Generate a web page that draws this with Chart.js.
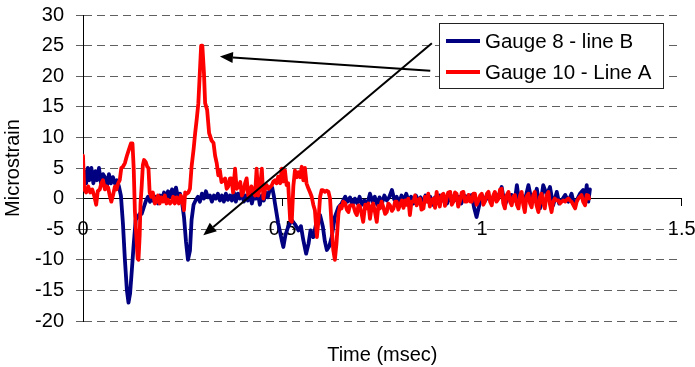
<!DOCTYPE html>
<html>
<head>
<meta charset="utf-8">
<title>Gauge strain vs time</title>
<script src="https://cdn.jsdelivr.net/npm/chart.js@4.4.1/dist/chart.umd.min.js"></script>
<style>
  html, body { margin: 0; padding: 0; background: #fff; }
  canvas { display: block; }
</style>
</head>
<body>
<canvas id="strainChart" width="695" height="367"></canvas>
<script>
// Gauge 8 (line B): sample times (msec) and strain readings (microstrain)
const gauge8Time = [
  0.000,0.004,0.008,0.012,0.016,0.021,0.026,0.031,0.035,0.040,
  0.045,0.050,0.055,0.060,0.065,0.070,0.075,0.080,0.085,0.090,
  0.095,0.100,0.105,0.110,0.114,0.118,0.122,0.127,0.132,0.137,
  0.142,0.147,0.152,0.158,0.163,0.168,0.173,0.178,0.183,0.188,
  0.193,0.198,0.203,0.208,0.213,0.218,0.223,0.228,0.233,0.238,
  0.243,0.248,0.253,0.258,0.263,0.268,0.272,0.277,0.282,0.288,
  0.293,0.298,0.303,0.308,0.313,0.318,0.323,0.328,0.333,0.338,
  0.343,0.348,0.353,0.358,0.363,0.368,0.373,0.378,0.383,0.388,
  0.393,0.398,0.403,0.408,0.413,0.418,0.423,0.428,0.433,0.438,
  0.443,0.448,0.453,0.458,0.463,0.468,0.474,0.478,0.481,0.489,
  0.498,0.502,0.507,0.514,0.523,0.531,0.540,0.546,0.552,0.559,
  0.565,0.570,0.577,0.586,0.594,0.601,0.606,0.611,0.617,0.623,
  0.631,0.640,0.648,0.657,0.663,0.669,0.675,0.681,0.687,0.693,
  0.699,0.705,0.711,0.719,0.725,0.731,0.737,0.743,0.749,0.755,
  0.761,0.767,0.774,0.780,0.786,0.792,0.798,0.804,0.810,0.816,
  0.822,0.828,0.834,0.840,0.846,0.852,0.858,0.864,0.870,0.876,
  0.882,0.888,0.894,0.900,0.906,0.912,0.918,0.924,0.930,0.936,
  0.942,0.948,0.954,0.962,0.974,0.980,0.986,0.991,0.999,1.008,
  1.016,1.024,1.032,1.040,1.049,1.057,1.066,1.074,1.082,1.087,
  1.093,1.099,1.107,1.116,1.122,1.128,1.137,1.145,1.153,1.162,
  1.170,1.178,1.187,1.193,1.199,1.208,1.216,1.224,1.230,1.237,
  1.245,1.253,1.258,1.262,1.266,1.270
];
const gauge8Strain = [
  1.5,4.5,2.5,5,3,5,2.5,4.5,3,5,
  2.5,4,3.5,2,4,2.5,3.5,2.5,3,2,
  0.5,-4,-10,-15,-17,-15.5,-12,-7.5,-3.5,-3,
  -2.5,-2.5,-1.5,-0.3,0.3,-0.5,0.5,-0.5,0.3,-0.8,
  0.5,0,1,-0.3,1.2,0.3,1.5,0.5,1.8,0.2,
  0.8,-0.5,-3,-7,-10,-8.5,-3.5,-1,-0.3,0.3,
  -0.5,0.8,0,1.2,0.2,0.5,-0.5,0.5,0,0.8,
  -0.3,0.5,-0.5,0.8,-0.2,0.5,-0.3,1,-0.5,0.8,
  0,1.2,-0.5,0.5,-0.3,1,-0.8,0.5,0,1,
  -1,0.5,-0.3,1,0.2,1.5,1.8,0.5,-0.8,-4,
  -6.8,-7.9,-6,-4.6,-3.5,-4.2,-5.2,-4.5,-6.8,-9,
  -7.4,-5.2,-6.3,-3.5,-2.7,-4.6,-7,-8.4,-7.8,-6.3,
  -3,-1.4,-0.8,0.3,-0.5,0.2,-1,0,-0.8,0.3,
  -1,-0.3,-1.2,0.8,-0.5,0.3,-1,0.2,-0.8,0.5,
  -0.3,0.2,1.4,-0.2,0.3,-0.8,0.5,-0.3,0.8,-0.5,
  0.3,-0.8,0.5,-0.3,0.2,-0.8,0.5,-0.5,0.3,-1,
  0.2,-0.5,0.5,-0.3,0,-0.8,0.2,-0.5,0.5,-0.3,
  0.3,-0.8,0.5,0.3,0.6,-1.5,-3,-1.6,0.6,-0.3,
  0.5,-0.3,0.8,0.2,1.9,-1.1,0.5,0.6,-0.3,2.2,
  -0.5,0.6,-0.3,2.2,0.3,-0.5,1.6,-1.6,2.2,0.6,
  1.9,-1.1,1.1,-0.8,-0.3,0.6,-0.5,0.8,-0.8,-0.3,
  0.8,1.4,-0.3,2.2,-0.5,1.5
];

// Gauge 10 (line A): sample times (msec) and strain readings (microstrain)
const gauge10Time = [
  0.000,0.003,0.008,0.013,0.018,0.023,0.028,0.033,0.037,0.042,
  0.046,0.050,0.055,0.059,0.063,0.067,0.071,0.075,0.080,0.084,
  0.088,0.092,0.096,0.100,0.105,0.110,0.115,0.120,0.124,0.127,
  0.130,0.133,0.137,0.139,0.142,0.144,0.147,0.150,0.153,0.157,
  0.161,0.164,0.167,0.171,0.175,0.180,0.184,0.188,0.192,0.196,
  0.200,0.205,0.209,0.213,0.218,0.222,0.226,0.230,0.235,0.240,
  0.245,0.249,0.253,0.256,0.260,0.264,0.268,0.272,0.277,0.281,
  0.285,0.289,0.293,0.296,0.299,0.303,0.306,0.311,0.316,0.322,
  0.327,0.331,0.335,0.339,0.343,0.347,0.352,0.356,0.360,0.364,
  0.368,0.372,0.376,0.381,0.385,0.390,0.394,0.398,0.402,0.406,
  0.410,0.414,0.418,0.422,0.427,0.431,0.435,0.439,0.444,0.448,
  0.452,0.456,0.460,0.465,0.469,0.473,0.477,0.481,0.485,0.489,
  0.494,0.498,0.502,0.506,0.510,0.514,0.519,0.523,0.527,0.531,
  0.536,0.540,0.544,0.548,0.552,0.556,0.560,0.565,0.569,0.573,
  0.577,0.581,0.586,0.590,0.594,0.598,0.601,0.606,0.611,0.615,
  0.619,0.623,0.627,0.631,0.635,0.640,0.644,0.648,0.652,0.657,
  0.661,0.665,0.669,0.673,0.677,0.682,0.686,0.690,0.694,0.698,
  0.702,0.707,0.711,0.715,0.719,0.723,0.727,0.731,0.736,0.740,
  0.744,0.748,0.752,0.757,0.761,0.765,0.769,0.774,0.778,0.782,
  0.786,0.790,0.794,0.799,0.803,0.807,0.811,0.815,0.819,0.823,
  0.828,0.832,0.836,0.840,0.844,0.848,0.853,0.857,0.861,0.865,
  0.869,0.873,0.878,0.882,0.886,0.890,0.894,0.898,0.903,0.907,
  0.911,0.915,0.920,0.924,0.928,0.932,0.936,0.940,0.945,0.949,
  0.953,0.957,0.961,0.966,0.970,0.974,0.978,0.982,0.986,0.991,
  0.995,0.999,1.003,1.007,1.012,1.016,1.020,1.024,1.028,1.032,
  1.036,1.041,1.045,1.049,1.053,1.057,1.061,1.066,1.070,1.074,
  1.078,1.082,1.087,1.091,1.095,1.099,1.103,1.107,1.111,1.116,
  1.120,1.124,1.128,1.132,1.136,1.141,1.145,1.149,1.153,1.157,
  1.161,1.166,1.170,1.174,1.178,1.182,1.186,1.191,1.195,1.199,
  1.203,1.208,1.212,1.216,1.220,1.224,1.228,1.233,1.237,1.241,
  1.245,1.249,1.253,1.258,1.262,1.266,1.268
];
const gauge10Strain = [
  7,1.5,1,2,1,1.5,0.5,-1,1.2,1.5,
  2.5,3,1.5,2,1.8,0.5,-0.5,0.5,2,1.5,
  2.5,3,5,5.2,5.8,7,8,9,9,5,
  -2,-5.5,-9.8,-10,-6,-1,2,5.5,6.3,6,
  5.2,5,1,0.3,1,-0.8,-0.5,0.5,-0.8,0.2,
  -0.5,0.5,-0.8,-0.2,-0.8,-0.5,0.3,-0.8,0.2,-0.8,
  0.5,-0.5,-1.9,1,0.8,1,1.6,5.2,8,10.7,
  13,15.6,21,25,25,20.6,15.6,14.5,10.7,9.5,
  9.1,7,5.8,3.8,4.6,2.7,3,3.3,1.6,2,
  3.3,3.3,1,4.9,1.6,2,2.7,0.5,1.1,2.5,
  3.3,0.5,1.1,2,1.1,0.5,4.9,0.5,2,4.9,
  0,1.5,2.2,1.6,1.9,2.2,2.8,3,2.5,3.6,
  2.5,4.9,2.8,4.6,2.2,2.5,-3.5,-3.8,2,4.6,
  3.5,4.3,3.5,5.2,3,5,2.5,1.6,1,0.3,
  -1,-1.9,-6.3,-3.5,0.3,1.4,1.4,1.1,1.3,1.1,
  0,-4.6,-8.4,-10,-7.4,-2.5,-1.2,-1.6,-0.5,-0.8,
  -1.8,-2.2,-1.1,-1.1,-1.1,-2.2,-2.7,-1.1,-1.3,-2.5,
  -3.8,-1,-1.6,-0.8,-3.3,-1.5,-0.8,-2,-3.8,-1.2,
  -1.6,-0.5,-1.3,-2.5,-2.2,-0.8,-1.1,-2,-1.6,-0.5,
  -0.5,-1.8,-1.1,-0.3,-1.5,-0.3,-1,0,-2.7,-0.5,
  -0.5,0.5,-1.1,-0.3,0,-1.8,-1.6,0.3,-0.5,0.8,
  -1.3,-0.3,0,-1.5,1.1,-0.5,-1.3,0.5,0.8,-1.2,
  0,1,1.1,-1,-0.5,1,0.8,-1.3,-0.3,1,
  1.1,-0.5,-0.5,0.6,-0.5,-0.5,0.8,0.8,-1,-0.3,
  0.5,0.8,-1,-0.5,0.8,1.1,-0.5,-1.1,0.5,1.1,
  -0.5,0,1.5,1.6,-0.8,-1.6,0.5,1.1,-0.5,-1.1,
  0.3,0.6,-1,-1.6,0.5,1.1,-1,-2.2,0.3,0.8,
  -0.8,-1.4,0.5,1.1,-1,-2.2,0.3,0.8,-0.8,-1.6,
  0.5,1.1,-1,-2.2,-0.5,0,-0.3,-0.3,-0.8,-0.5,
  -0.3,-0.5,-0.2,0,-0.3,-0.5,-1,-1.6,-0.5,0,
  0.3,0.6,-0.5,-1.1,0.6,0.5,0
];

const seriesNames = ['Gauge 8 - line B', 'Gauge 10 - Line A'];
const seriesColors = ['#000080', '#ff0000'];

const timeTicks = [0, 0.5, 1, 1.5];
const timeTickLabels = ['0', '0.5', '1', '1.5'];
const strainTicks = [-20, -15, -10, -5, 0, 5, 10, 15, 20, 25, 30];

// Callout arrows, tail and head in (msec, microstrain)
const pointerArrows = [
  { from: [0.870, 20.9], to: [0.343, 23.2] },
  { from: [0.874, 25.4], to: [0.3015, -6.0] }
];

const FONT = "'Liberation Sans', Arial, Helvetica, sans-serif";
Chart.defaults.font.family = FONT;
Chart.defaults.font.size = 20;
Chart.defaults.color = '#000';

function toPoints(xs, ys) {
  return xs.map((x, i) => ({ x: x, y: ys[i] }));
}

// Arrows pointing from the legend to the two peaks
const pointerPlugin = {
  id: 'pointerArrows',
  afterDatasetsDraw(chart) {
    const { ctx } = chart;
    const xs = chart.scales.x, ys = chart.scales.y;
    ctx.save();
    ctx.strokeStyle = '#000';
    ctx.fillStyle = '#000';
    ctx.lineWidth = 2;
    pointerArrows.forEach(a => {
      const x1 = xs.getPixelForValue(a.from[0]), y1 = ys.getPixelForValue(a.from[1]);
      const x2 = xs.getPixelForValue(a.to[0]), y2 = ys.getPixelForValue(a.to[1]);
      const ang = Math.atan2(y2 - y1, x2 - x1);
      const len = 13, half = 5.5;
      const bx = x2 - len * Math.cos(ang), by = y2 - len * Math.sin(ang);
      ctx.beginPath();
      ctx.moveTo(x1, y1);
      ctx.lineTo(bx, by);
      ctx.stroke();
      ctx.beginPath();
      ctx.moveTo(x2, y2);
      ctx.lineTo(bx + half * Math.sin(ang), by - half * Math.cos(ang));
      ctx.lineTo(bx - half * Math.sin(ang), by + half * Math.cos(ang));
      ctx.closePath();
      ctx.fill();
    });
    ctx.restore();
  }
};

// Boxed legend inside the plot, upper right
const legendBoxPlugin = {
  id: 'legendBox',
  afterDraw(chart) {
    const { ctx, chartArea } = chart;
    const w = 224, h = 65;
    const x = Math.round(chartArea.right - 19 - w), y = Math.round(chartArea.top + 8);
    ctx.save();
    ctx.fillStyle = '#fff';
    ctx.fillRect(x, y, w, h);
    ctx.strokeStyle = '#222';
    ctx.lineWidth = 1;
    ctx.strokeRect(x + 0.5, y + 0.5, w, h);
    chart.data.datasets.forEach((ds, i) => {
      const cy = y + 18 + i * 31;
      ctx.strokeStyle = ds.borderColor;
      ctx.lineWidth = 4;
      ctx.beginPath();
      ctx.moveTo(x + 7, cy);
      ctx.lineTo(x + 41, cy);
      ctx.stroke();
      ctx.fillStyle = '#000';
      ctx.font = '20.5px ' + FONT;
      ctx.textAlign = 'left';
      ctx.textBaseline = 'middle';
      ctx.fillText(ds.label, x + 46, cy + 1);
    });
    ctx.restore();
  }
};

new Chart(document.getElementById('strainChart'), {
  type: 'line',
  data: {
    datasets: [
      {
        label: seriesNames[0],
        data: toPoints(gauge8Time, gauge8Strain),
        borderColor: seriesColors[0],
        backgroundColor: seriesColors[0],
        borderWidth: 3.8,
        pointRadius: 0,
        tension: 0,
        fill: false,
        borderJoinStyle: 'round',
        borderCapStyle: 'round',
        order: 1
      },
      {
        label: seriesNames[1],
        data: toPoints(gauge10Time, gauge10Strain),
        borderColor: seriesColors[1],
        backgroundColor: seriesColors[1],
        borderWidth: 3.8,
        pointRadius: 0,
        tension: 0,
        fill: false,
        borderJoinStyle: 'round',
        borderCapStyle: 'round',
        order: 0
      }
    ]
  },
  options: {
    responsive: false,
    animation: false,
    devicePixelRatio: 1,
    events: [],
    layout: { padding: { left: 0, right: 13.3, top: 15, bottom: 0 } },
    scales: {
      x: {
        type: 'linear',
        min: 0,
        max: 1.5,
        position: { y: 0 },
        afterBuildTicks: s => { s.ticks = timeTicks.map(v => ({ value: v })); },
        afterFit: s => { s.height = 0; s.paddingLeft = 0; s.paddingRight = 0; },
        grid: { drawOnChartArea: false, drawTicks: true, tickLength: 7, color: '#000', tickColor: '#000' },
        border: { display: true, color: '#000', width: 1 },
        ticks: {
          color: '#000',
          padding: 12,
          maxRotation: 0,
          font: { size: 20 },
          callback: (v, i) => timeTickLabels[i]
        }
      },
      y: {
        type: 'linear',
        min: -20,
        max: 30,
        afterBuildTicks: s => { s.ticks = strainTicks.map(v => ({ value: v })); },
        afterFit: s => { s.width = 83; s.paddingTop = 0; s.paddingBottom = 0; },
        grid: {
          color: c => (c.tick && c.tick.value === 0) ? 'rgba(0,0,0,0)' : '#606060',
          tickColor: '#606060',
          tickLength: 7,
          lineWidth: 1
        },
        border: { display: true, color: '#000', width: 1, dash: [8, 5] },
        ticks: { color: '#000', padding: 12, font: { size: 20 } },
        title: {
          display: true,
          text: 'Microstrain',
          color: '#000',
          font: { size: 20 },
          padding: { top: 1, bottom: 0 }
        }
      }
    },
    plugins: {
      legend: { display: false },
      tooltip: { enabled: false },
      title: {
        display: true,
        text: 'Time (msec)',
        position: 'bottom',
        fullSize: false,
        color: '#000',
        font: { size: 20, weight: 'normal' },
        padding: { top: 22, bottom: 0 }
      }
    }
  },
  plugins: [pointerPlugin, legendBoxPlugin]
});
</script>
</body>
</html>
